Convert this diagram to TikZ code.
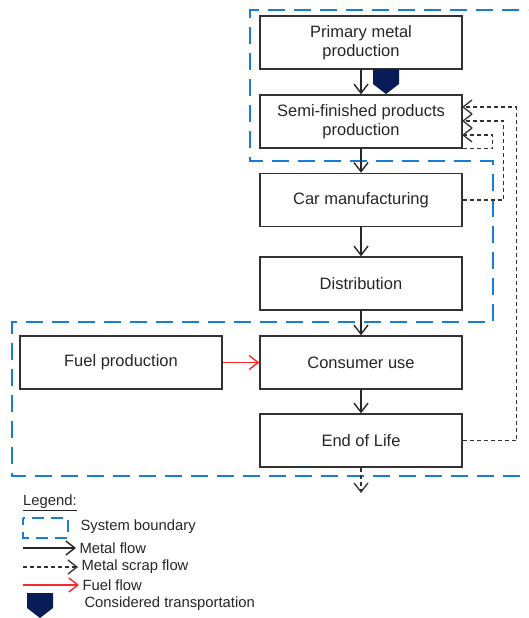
\documentclass[tikz,border=0pt]{standalone}
\usepackage{fontspec}
\setmainfont{Liberation Sans}
\usetikzlibrary{arrows.meta}

\definecolor{boundblue}{RGB}{25,125,215}
\definecolor{transnavy}{RGB}{8,28,88}
\definecolor{linegray}{RGB}{50,50,50}
\definecolor{fuelred}{RGB}{250,40,40}

\tikzset{
  transport/.pic={
    \fill[transnavy] (-13,0) -- (13,0) -- (13,15) -- (0,25) -- (-13,15) -- cycle;
  }
}

\begin{document}
\begin{tikzpicture}[x=1pt, y=-1pt, >={Straight Barb[length=9pt,width=14pt]},
    box/.style={draw=linegray, line width=1.5pt, minimum width=202pt, minimum height=53pt,
      align=center, inner sep=0pt, text=black!85, font=\fontsize{16.5}{19}\selectfont},
    metal/.style={->, line width=1.4pt, draw=black!85},
    scrap/.style={->, line width=1.3pt, draw=linegray, dash pattern=on 4pt off 3pt},
    fuel/.style={->, line width=1.4pt, draw=fuelred},
    boundary/.style={draw=boundblue, line width=2.5pt, dash pattern=on 17pt off 9pt},
    legtext/.style={anchor=west, text=black!85, font=\fontsize{14.8}{17}\selectfont}]
  \useasboundingbox (0,0) rectangle (528,618);

  % system boundary
  \begin{scope}
    \clip (0,0) rectangle (528,618);
    \draw[boundary] (545,10) -- (250,10) -- (250,161) -- (493,161) -- (493,322)
      -- (12,322) -- (12,476) -- (545,476);
  \end{scope}

  % process chain
  \node[box] (primary) at (361,42.5) {Primary metal\\production};
  \node[box] (semi) at (361,121.5) {Semi-finished products\\production};
  \node[box] (car) at (361,200) {Car manufacturing};
  \node[box] (distrib) at (361,283.5) {Distribution};
  \node[box] (consumer) at (361,362.5) {Consumer use};
  \node[box] (eol) at (361,440.5) {End of Life};
  \node[box] (fuelprod) at (121,362.5) {Fuel production};

  \draw[metal] (primary) -- (semi);
  \draw[metal] (semi) -- (car);
  \draw[metal] (car) -- (distrib);
  \draw[metal] (distrib) -- (consumer);
  \draw[metal] (consumer) -- (eol);
  \draw[fuel] (fuelprod) -- (consumer);

  \pic at (386,69) {transport};

  % scrap loops back to semi-finished products
  \coordinate (scrapin1) at (462,135);
  \coordinate (scrapin2) at (462,121);
  \coordinate (scrapin3) at (462,107);
  \coordinate (scrapout) at (361,493);
  \draw[scrap] (semi.south east) -- ++(30,0) |- (scrapin1);
  \draw[scrap] (car.east) -- ++(41,0) |- (scrapin2);
  \draw[scrap] (eol.east) -- ++(54,0) |- (scrapin3);
  \draw[scrap] (eol) -- (scrapout);

  % legend
  \node[legtext, inner sep=0pt] (legend) at (23,503) {\underline{Legend:}};
  \draw[boundary, line width=2pt, dash pattern=on 12pt off 7pt, dash phase=5pt]
    (23,518) rectangle (68,538);
  \node[legtext] (boundlabel) at (77,527) {System boundary};
  \node[legtext] (metallabel) at (76,548) {Metal flow};
  \node[legtext] (scraplabel) at (78,567) {Metal scrap flow};
  \node[legtext] (fuellabel) at (79,585) {Fuel flow};
  \node[legtext] (translabel) at (81,604) {Considered transportation};
  \coordinate (metalstart) at (23,548);
  \coordinate (scrapstart) at (23,567);
  \coordinate (fuelstart) at (23,585);
  \draw[metal] (metalstart) -- (metallabel.west);
  \draw[scrap] (scrapstart) -- (scraplabel.west);
  \draw[fuel] (fuelstart) -- (fuellabel.west);
  \pic at (40,593) {transport};
\end{tikzpicture}
\end{document}
